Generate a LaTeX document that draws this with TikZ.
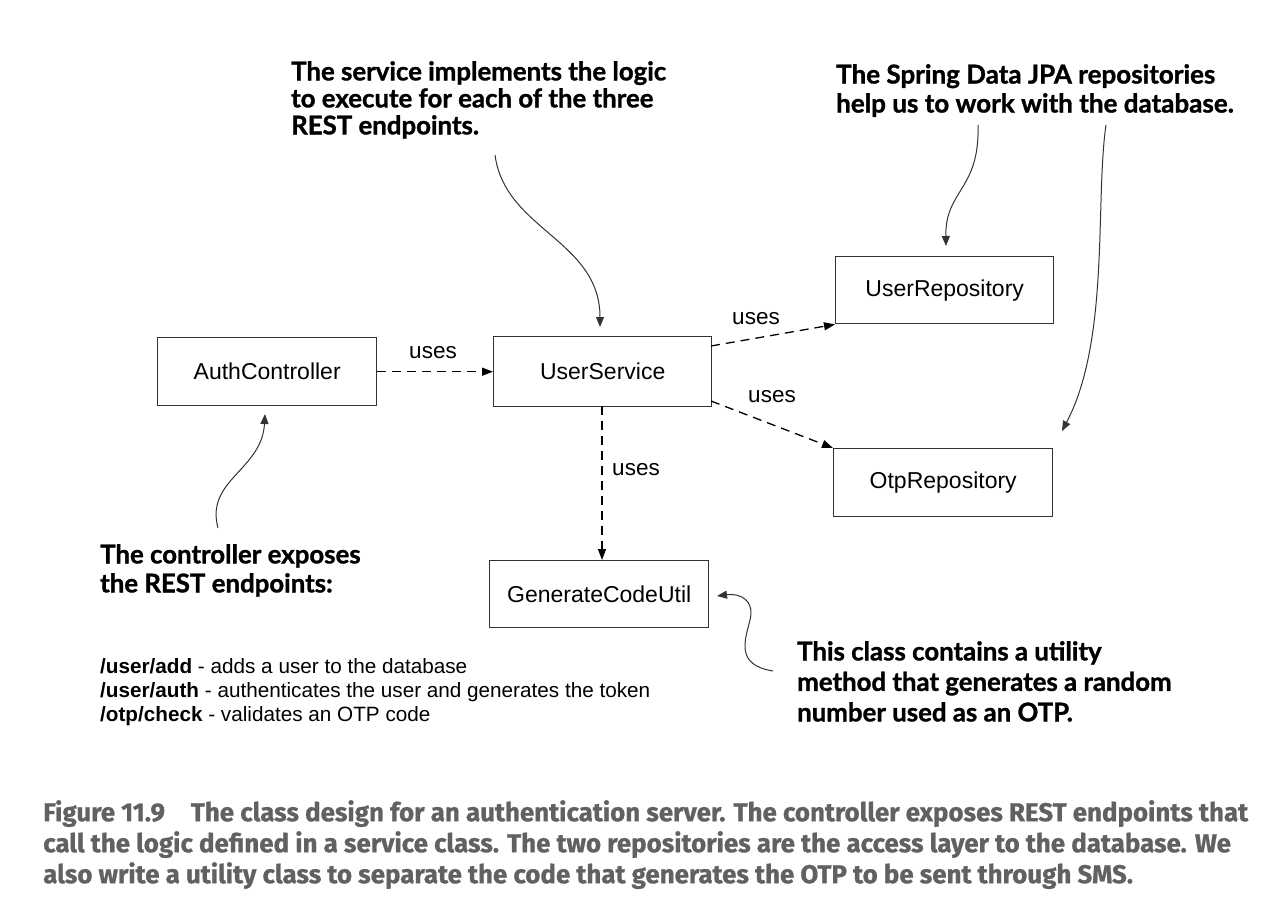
\documentclass[tikz,border=0pt]{standalone}
\usepackage{fontspec}
\setmainfont{Liberation Sans}
\newfontfamily\annfont[BoldFeatures={FakeBold=1.2}]{Lato}
\newfontfamily\capfont[BoldFeatures={FakeBold=0.8}]{Fira Sans}
\usetikzlibrary{arrows.meta}
\definecolor{linec}{HTML}{333333}
\definecolor{capc}{HTML}{606163}
\begin{document}
\begin{tikzpicture}[x=1pt,y=-1pt,
  cls/.style={draw=linec,line width=1.4pt,minimum width=219pt,minimum height=68pt,inner sep=0pt,font=\fontsize{23}{27}\selectfont,anchor=north west},
  uses/.style={draw=black,line width=1.3pt,dash pattern=on 9pt off 6pt,-{Triangle[length=11pt,width=8pt]}},
  lbl/.style={font=\fontsize{22.5}{26}\selectfont,inner sep=0pt},
  ann/.style={font=\annfont\bfseries\fontsize{25.8}{29}\selectfont,align=left,anchor=north west,inner sep=0pt},
  pointer/.style={draw=linec,line width=1pt,-{Triangle[length=10pt,width=8pt]}}]
\useasboundingbox (0,0) rectangle (1280,905);
\fill[white] (0,0) rectangle (1280,905);

\node[cls] (auth) at (157,337) {AuthController};
\node[cls,minimum width=218pt,minimum height=70pt] (svc) at (493,336) {UserService};
\node[cls,minimum width=218pt,minimum height=67pt] (urepo) at (835,256) {UserRepository};
\node[cls,minimum width=219pt,minimum height=68pt] (orepo) at (833,448) {OtpRepository};
\node[cls,minimum width=219pt,minimum height=67pt] (gen) at (489,560) {GenerateCodeUtil};

% uses connectors
\draw[uses] (auth.east) -- (svc.west);
\node[lbl] (l1) at (433,353) {uses};
\coordinate (s1) at (711,346);
\draw[uses] (s1) -- (urepo.south west);
\node[lbl] (l2) at (756,319) {uses};
\coordinate (s2) at (711,401);
\draw[uses] (s2) -- (orepo.north west);
\node[lbl] (l3) at (772,397) {uses};
\coordinate (s3) at (602,406);
\coordinate (g3) at (602,560);
\draw[uses] (s3) -- (g3);
\node[lbl] (l4) at (636,470) {uses};

% annotations
\node[ann,font=\annfont\bfseries\fontsize{25.8}{27}\selectfont] (aSvc) at (291,61) {The service implements the logic\\to execute for each of the three\\REST endpoints.};
\node[ann,font=\annfont\bfseries\fontsize{26}{29}\selectfont] (aJpa) at (836,64) {The Spring Data JPA repositories\\help us to work with the database.};
\node[ann] (aCtl) at (100,544) {The controller exposes\\the REST endpoints:};
\node[ann,font=\annfont\bfseries\fontsize{25.8}{30.5}\selectfont] (aGen) at (797,641) {This class contains a utility\\method that generates a random\\number used as an OTP.};

\coordinate (c1) at (495,155);
\coordinate (t1) at (600,327);
\draw[pointer] (c1) .. controls (505,230) and (600,240) .. (t1);
\coordinate (c2) at (978,125);
\coordinate (t2) at (946,246);
\draw[pointer] (c2) .. controls (980,190) and (945,190) .. (t2);
\coordinate (c3) at (1106,125);
\coordinate (t3) at (1062,431);
\draw[pointer] (c3) .. controls (1095,200) and (1110,340) .. (t3);
\coordinate (c4) at (218,528);
\coordinate (t4) at (265,414);
\draw[pointer] (c4) .. controls (205,480) and (262,470) .. (t4);
\coordinate (c5) at (773,671);
\coordinate (t5) at (717,596);
\draw[pointer] (c5) .. controls (735,665) and (745,640) .. (750,620) .. controls (755,600) and (740,593) .. (t5);

% endpoint list
\node[anchor=north west,inner sep=0pt,align=left,font=\fontsize{20.7}{24}\selectfont] (eps) at (100,658)
 {\textbf{/user/add} - adds a user to the database\\
  \textbf{/user/auth} - authenticates the user and generates the token\\
  \textbf{/otp/check} - validates an OTP code};

% caption
\node[anchor=north west,inner sep=0pt,align=left,text=capc,font=\capfont\bfseries\fontsize{25.9}{31}\selectfont] (cap) at (43,800)
 {Figure 11.9\quad The class design for an authentication server. The controller exposes REST endpoints that\\
  call the logic defined in a service class. The two repositories are the access layer to the database. We\\
  also write a utility class to separate the code that generates the OTP to be sent through SMS.};
\end{tikzpicture}
\end{document}
